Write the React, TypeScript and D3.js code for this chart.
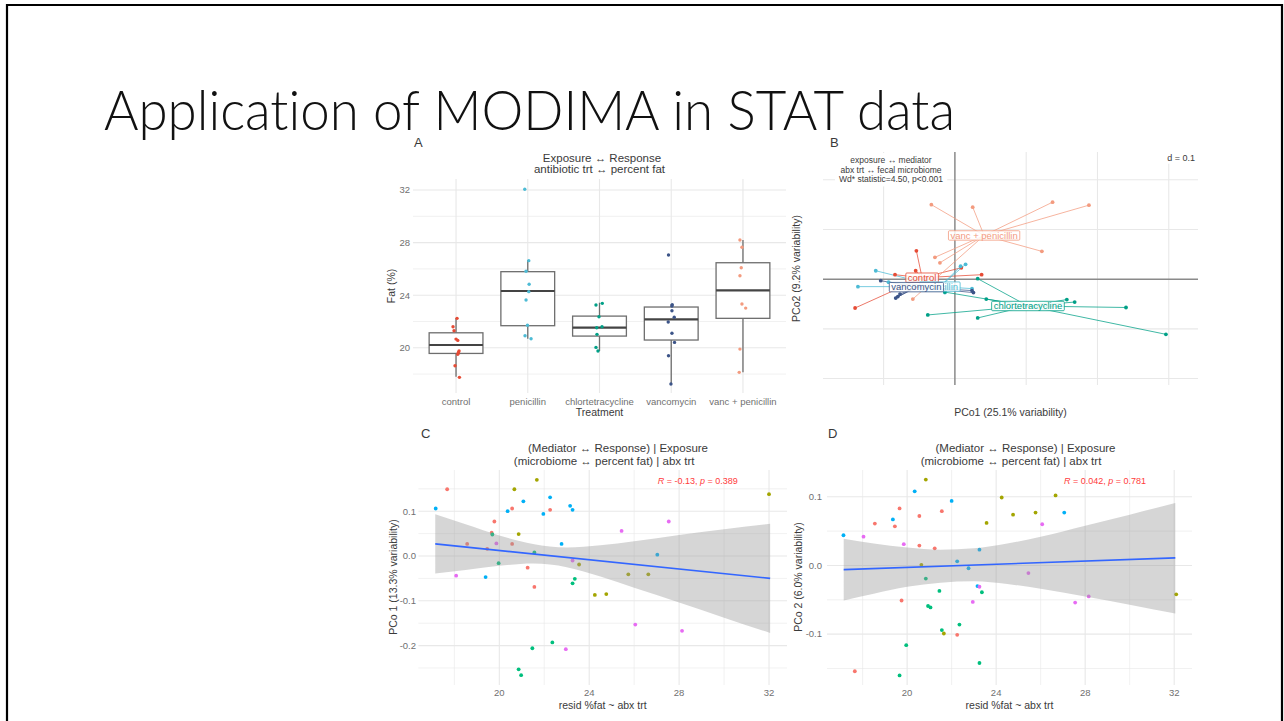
import { useEffect, useRef } from 'react';
import * as d3 from 'd3';

const FONT = '"Liberation Sans", Arial, sans-serif';
const TICK = '#707070';
const INK = '#3a3a3a';
const GRID = '#e8e8e8';

// ---- Panel A: percent fat by antibiotic treatment
const treatments = ['control', 'penicillin', 'chlortetracycline', 'vancomycin', 'vanc + penicillin'];
const treatmentColors = ['#E64B35', '#4DBBD5', '#00A087', '#3C5488', '#F39B7F'];
const fatTicks = [20, 24, 28, 32];
const fatMinorTicks = [18, 22, 26, 30];
// lower whisker, q1, median, q3, upper whisker
const fatBoxes = [
  [17.79, 19.57, 20.21, 21.14, 22.24],
  [20.69, 21.68, 24.32, 25.79, 26.68],
  [19.75, 20.89, 21.53, 22.41, 23.43],
  [17.24, 20.59, 22.16, 23.10, 23.33],
  [18.13, 22.24, 24.37, 26.47, 28.20],
];
// [jitter (category widths), percent fat]
const fatControl = [[0.014, 22.24], [-0.042, 21.6], [-0.028, 21.29], [0, 20.66], [0.024, 20.56], [0.042, 19.75], [0.033, 19.65], [0.024, 19.5], [-0.014, 18.63], [0.047, 17.75]];
const fatPenicillin = [[-0.042, 32.06], [0.014, 26.63], [-0.024, 25.82], [0.019, 24.83], [0.014, 24.27], [-0.024, 23.63], [-0.004, 21.71], [-0.038, 20.91], [0.046, 20.69]];
const fatChlortetracycline = [[-0.049, 23.25], [0.039, 23.38], [-0.007, 22.36], [0.035, 21.6], [-0.039, 21.52], [-0.035, 21.02], [-0.049, 20.03], [-0.021, 19.75]];
const fatVancomycin = [[-0.038, 27.06], [0.014, 23.27], [0.01, 23.18], [0.01, 22.82], [0.042, 22.32], [-0.042, 21.96], [0.01, 21.1], [0.046, 20.41], [-0.038, 19.39], [-0.004, 17.24]];
const fatVancPenicillin = [[-0.042, 28.2], [-0.014, 27.65], [-0.024, 26.09], [-0.042, 25.48], [-0.014, 23.33], [0.038, 23.02], [-0.042, 19.9], [-0.052, 18.13]];
const fatPoints = [fatControl, fatPenicillin, fatChlortetracycline, fatVancomycin, fatVancPenicillin];

// ---- Panel B: PCoA of fecal microbiome, grouped by treatment
const pcoGridX = [-0.1, 0.1, 0.2, 0.3];
const pcoGridY = [-0.2, -0.1, 0.1, 0.2];
const pcoCentroids = [[-0.046, 0.003], [-0.021, -0.015], [0.1025, -0.054], [-0.054, -0.016], [0.041, 0.088]];
const pcoControl = [[-0.054, 0.057], [-0.055, 0.017], [-0.084, 0.009], [-0.14, -0.058], [0.0375, 0.009], [0.009, 0.023]];
const pcoPenicillin = [[-0.111, 0.017], [-0.136, -0.015], [-0.093, -0.006], [0.008, 0.026], [0.015, 0.03], [0.024, -0.019], [-0.014, -0.027]];
const pcoChlortetracycline = [[0.032, 0.001], [-0.014, -0.026], [0.044, -0.04], [-0.038, -0.072], [0.032, -0.078], [0.157, -0.041], [0.168, -0.046], [0.24, -0.057], [0.296, -0.111]];
const pcoVancomycin = [[-0.104, -0.003], [-0.077, -0.03], [-0.08, -0.035], [-0.083, -0.038], [0.026, -0.027], [0.024, -0.023]];
const pcoVancPenicillin = [[-0.033, 0.15], [0.025, 0.145], [0.137, 0.155], [0.188, 0.149], [0.122, 0.056], [-0.028, 0.044], [-0.021, 0.033], [-0.059, -0.04]];
const pcoPoints = [pcoControl, pcoPenicillin, pcoChlortetracycline, pcoVancomycin, pcoVancPenicillin];

// ---- Panels C & D: PCo axis vs residual %fat
const hueColors = ['#F8766D', '#A3A500', '#00BF7D', '#00B0F6', '#E76BF3'];
const residTicks = [20, 24, 28, 32];
const residMinor = [18, 22, 26, 30];
// [resid %fat, PCo score, colour group]
const pco1Points = [
  [17.17, 0.106, 3], [17.68, 0.149, 0], [18.08, -0.044, 4], [18.57, 0.027, 0], [19.39, -0.047, 3],
  [19.46, 0.016, 0], [19.66, 0.052, 0], [19.69, 0.048, 2], [19.78, 0.077, 0], [19.87, 0.028, 4],
  [19.97, -0.016, 2], [20.37, 0.1, 3], [20.57, 0.106, 0], [20.57, 0.027, 0], [20.67, 0.149, 1],
  [20.86, 0.049, 1], [20.86, -0.253, 2], [20.97, -0.266, 2], [21.07, 0.122, 3], [21.26, -0.026, 0],
  [21.47, -0.206, 2], [21.56, 0.008, 2], [21.56, -0.069, 0], [21.67, 0.17, 1], [21.96, 0.094, 3],
  [22.26, 0.103, 0], [22.26, 0.131, 3], [22.36, -0.193, 2], [22.77, 0.027, 3], [22.96, -0.208, 4],
  [23.15, 0.112, 3], [23.26, 0.103, 3], [23.26, -0.01, 4], [23.26, -0.061, 2], [23.36, -0.051, 2],
  [23.55, -0.019, 1], [24.25, -0.087, 1], [24.76, -0.085, 1], [25.44, 0.056, 4], [25.74, -0.041, 1],
  [26.05, -0.153, 4], [26.63, -0.041, 1], [27.03, 0.003, 3], [27.54, 0.077, 4], [28.13, -0.167, 4],
  [32.0, 0.138, 1],
];
const pco2Points = [
  [17.14, 0.044, 3], [18.04, 0.042, 4], [17.65, -0.154, 0], [18.55, 0.061, 0], [19.36, 0.067, 3],
  [19.45, 0.057, 0], [19.66, 0.083, 0], [19.66, -0.16, 2], [19.75, -0.051, 0], [19.85, 0.031, 4],
  [19.96, -0.116, 2], [20.34, 0.108, 3], [20.55, 0.072, 0], [20.55, 0.029, 0], [20.64, 0.001, 1],
  [20.84, 0.125, 1], [20.84, -0.019, 2], [20.94, -0.059, 2], [21.05, -0.061, 2], [21.24, 0.025, 0],
  [21.45, -0.037, 2], [21.56, 0.079, 0], [21.56, -0.094, 2], [21.65, -0.099, 1], [22.0, 0.094, 3],
  [22.25, 0.006, 3], [22.25, -0.101, 0], [22.35, -0.086, 2], [22.76, -0.004, 3], [22.95, -0.053, 4],
  [23.16, -0.03, 3], [23.25, 0.023, 3], [23.25, -0.031, 4], [23.25, -0.142, 2], [23.36, -0.039, 2],
  [23.57, 0.062, 1], [24.25, 0.099, 1], [24.76, 0.074, 1], [25.45, -0.011, 4], [25.77, 0.077, 1],
  [26.07, 0.06, 4], [26.67, 0.102, 1], [27.06, 0.077, 3], [27.55, -0.054, 4], [28.16, -0.045, 4],
  [32.09, -0.042, 1],
];
const bandX = [17.15, 18.5, 20, 21.5, 23, 24.5, 26, 28, 30, 32.05];
const pco1Upper = [0.093, 0.071, 0.046, 0.027, 0.019, 0.024, 0.033, 0.047, 0.06, 0.072];
const pco1Lower = [-0.039, -0.031, -0.022, -0.017, -0.025, -0.046, -0.071, -0.104, -0.138, -0.172];
const pco2Upper = [0.039, 0.032, 0.026, 0.023, 0.025, 0.032, 0.042, 0.058, 0.074, 0.091];
const pco2Lower = [-0.051, -0.041, -0.031, -0.025, -0.023, -0.027, -0.034, -0.045, -0.057, -0.07];
const fitX = [17.15, 32.05];
const pco1Fit = [0.027, -0.05];
const pco2Fit = [-0.006, 0.011];

function addText(g: any, x: number, y: number, str: string, size: number, fill: string, anchor = 'middle') {
  return g.append('text')
    .attr('x', x)
    .attr('y', y)
    .attr('font-family', FONT)
    .attr('font-size', size)
    .attr('fill', fill)
    .attr('text-anchor', anchor)
    .text(str);
}

function addVText(g: any, x: number, y: number, str: string, size: number, fill: string) {
  return g.append('text')
    .attr('transform', `translate(${x},${y}) rotate(-90)`)
    .attr('dy', '0.35em')
    .attr('font-family', FONT)
    .attr('font-size', size)
    .attr('fill', fill)
    .attr('text-anchor', 'middle')
    .text(str);
}

interface ResidPanel {
  tag: string;
  tagX: number;
  points: number[][];
  upper: number[];
  lower: number[];
  fit: number[];
  xRange: [number, number];
  yDomain: [number, number];
  yTicks: number[];
  yMinor: number[];
  yTitle: string;
  yTitleX: number;
  tickRight: number;
  title1X: number;
  rX: number;
  rText: [string, string];
}

function drawResidPanel(svg: any, cfg: ResidPanel) {
  const g = svg.append('g');
  const [x0, x1] = cfg.xRange;
  const top = 470;
  const bottom = 685;
  const x = d3.scaleLinear().domain([16.4, 32.8]).range(cfg.xRange);
  const y = d3.scaleLinear().domain(cfg.yDomain).range([bottom, top]);

  // minor gridlines
  g.selectAll(null).data(cfg.yMinor).join('line')
    .attr('x1', x0).attr('x2', x1)
    .attr('y1', (d: number) => y(d)).attr('y2', (d: number) => y(d))
    .attr('stroke', GRID).attr('stroke-width', 0.6);
  g.selectAll(null).data(residMinor).join('line')
    .attr('x1', (d: number) => x(d)).attr('x2', (d: number) => x(d))
    .attr('y1', top).attr('y2', bottom)
    .attr('stroke', GRID).attr('stroke-width', 0.6);
  // major gridlines
  g.selectAll(null).data(cfg.yTicks).join('line')
    .attr('x1', x0).attr('x2', x1)
    .attr('y1', (d: number) => y(d)).attr('y2', (d: number) => y(d))
    .attr('stroke', GRID).attr('stroke-width', 1.1);
  g.selectAll(null).data(residTicks).join('line')
    .attr('x1', (d: number) => x(d)).attr('x2', (d: number) => x(d))
    .attr('y1', top).attr('y2', bottom)
    .attr('stroke', GRID).attr('stroke-width', 1.1);

  // points (drawn under the confidence band)
  g.selectAll(null).data(cfg.points).join('circle')
    .attr('cx', (d: number[]) => x(d[0]))
    .attr('cy', (d: number[]) => y(d[1]))
    .attr('r', 1.9)
    .attr('fill', (d: number[]) => hueColors[d[2]]);

  const band = d3.area<number>()
    .x(d => x(d))
    .y0((d, i) => y(cfg.lower[i]))
    .y1((d, i) => y(cfg.upper[i]))
    .curve(d3.curveMonotoneX);
  g.append('path')
    .datum(bandX)
    .attr('d', band)
    .attr('fill', '#999999')
    .attr('fill-opacity', 0.4);

  g.append('line')
    .attr('x1', x(fitX[0])).attr('y1', y(cfg.fit[0]))
    .attr('x2', x(fitX[1])).attr('y2', y(cfg.fit[1]))
    .attr('stroke', '#3366FF')
    .attr('stroke-width', 1.6);

  // R / p annotation
  const r = g.append('text')
    .attr('x', cfg.rX).attr('y', 484)
    .attr('font-family', FONT).attr('font-size', 9).attr('fill', '#FF3B3B');
  r.append('tspan').attr('font-style', 'italic').text('R');
  r.append('tspan').text(cfg.rText[0]);
  r.append('tspan').attr('font-style', 'italic').text('p');
  r.append('tspan').text(cfg.rText[1]);

  // axes text
  cfg.yTicks.forEach(t => addText(g, cfg.tickRight, y(t) + 3.3, t.toFixed(1), 9.5, TICK, 'end'));
  residTicks.forEach(t => addText(g, x(t), 696, String(t), 9.5, TICK));
  const cx = (x0 + x1) / 2;
  addText(g, cx, 709, 'resid %fat ~ abx trt', 10.5, INK);
  addVText(g, cfg.yTitleX, 577, cfg.yTitle, 10.5, INK);

  addText(g, cfg.title1X, 452.3, '(Mediator \u2194 Response)  | Exposure', 11.5, INK);
  addText(g, cx + 1.5, 464.7, '(microbiome \u2194 percent fat) | abx trt', 11.5, INK);
  addText(g, cfg.tagX, 438, cfg.tag, 13, INK, 'start');
}

export default function App() {
  const svgRef = useRef<SVGSVGElement>(null);

  useEffect(() => {
    if (!svgRef.current) return;
    const svg = d3.select(svgRef.current);
    svg.selectAll('*').remove();

    svg.append('rect').attr('width', 1284).attr('height', 721).attr('fill', '#ffffff');
    // slide frame
    svg.append('path')
      .attr('d', 'M7,740 V5 H1282 V740')
      .attr('fill', 'none')
      .attr('stroke', '#000')
      .attr('stroke-width', 2.2);

    svg.append('text')
      .attr('x', 104)
      .attr('y', 130)
      .attr('font-family', 'Lato, "Open Sans", sans-serif')
      .attr('font-weight', 300)
      .attr('font-size', 55)
      .attr('textLength', 851)
      .attr('lengthAdjust', 'spacingAndGlyphs')
      .style('font-variant-ligatures', 'none')
      .attr('fill', '#111')
      .text('Application of MODIMA in STAT data');

    // ---------------- Panel A
    const gA = svg.append('g');
    const ax = d3.scaleLinear().domain([0.4, 5.6]).range([413, 786]);
    const ay = d3.scaleLinear().domain([16.56, 32.84]).range([393, 179]);
    const [ax0, ax1] = ax.range();

    gA.selectAll(null).data(fatMinorTicks).join('line')
      .attr('x1', ax0).attr('x2', ax1)
      .attr('y1', d => ay(d)).attr('y2', d => ay(d))
      .attr('stroke', GRID).attr('stroke-width', 0.6);
    gA.selectAll(null).data(fatTicks).join('line')
      .attr('x1', ax0).attr('x2', ax1)
      .attr('y1', d => ay(d)).attr('y2', d => ay(d))
      .attr('stroke', GRID).attr('stroke-width', 1.1);
    gA.selectAll(null).data(treatments).join('line')
      .attr('x1', (d, i) => ax(i + 1)).attr('x2', (d, i) => ax(i + 1))
      .attr('y1', 179).attr('y2', 393)
      .attr('stroke', GRID).attr('stroke-width', 1.1);

    const halfBox = (ax(1.375) - ax(1));
    fatBoxes.forEach((b, i) => {
      const cx = ax(i + 1);
      gA.append('line')
        .attr('x1', cx).attr('x2', cx).attr('y1', ay(b[0])).attr('y2', ay(b[1]))
        .attr('stroke', '#6e6e6e').attr('stroke-width', 1.3);
      gA.append('line')
        .attr('x1', cx).attr('x2', cx).attr('y1', ay(b[3])).attr('y2', ay(b[4]))
        .attr('stroke', '#6e6e6e').attr('stroke-width', 1.3);
      gA.append('rect')
        .attr('x', cx - halfBox).attr('y', ay(b[3]))
        .attr('width', halfBox * 2).attr('height', ay(b[1]) - ay(b[3]))
        .attr('fill', '#fff')
        .attr('stroke', '#6e6e6e').attr('stroke-width', 1.3);
      gA.append('line')
        .attr('x1', cx - halfBox).attr('x2', cx + halfBox)
        .attr('y1', ay(b[2])).attr('y2', ay(b[2]))
        .attr('stroke', '#444').attr('stroke-width', 2.2);
    });

    fatPoints.forEach((pts, i) => {
      gA.selectAll(null).data(pts).join('circle')
        .attr('cx', d => ax(i + 1 + d[0]))
        .attr('cy', d => ay(d[1]))
        .attr('r', 1.7)
        .attr('fill', treatmentColors[i]);
    });

    fatTicks.forEach(t => addText(gA, 410, ay(t) + 3.3, String(t), 9.5, TICK, 'end'));
    treatments.forEach((t, i) => addText(gA, ax(i + 1), 405, t, 9.5, TICK));
    addText(gA, (ax0 + ax1) / 2, 416, 'Treatment', 10.5, INK);
    addVText(gA, 391, 286, 'Fat (%)', 10.5, INK);
    addText(gA, 602, 161.7, 'Exposure \u2194 Response', 11.5, INK);
    addText(gA, (ax0 + ax1) / 2, 173.3, 'antibiotic trt \u2194 percent fat', 11.5, INK);
    addText(gA, 414, 147, 'A', 13, INK, 'start');

    // ---------------- Panel B
    const gB = svg.append('g');
    const bx = d3.scaleLinear().domain([-0.185, 0.341]).range([823, 1198]);
    const by = d3.scaleLinear().domain([-0.213, 0.256]).range([385, 152]);
    const [bx0, bx1] = bx.range();
    const [by0, by1] = by.range();

    gB.selectAll(null).data(pcoGridX).join('line')
      .attr('x1', d => bx(d)).attr('x2', d => bx(d)).attr('y1', by1).attr('y2', by0)
      .attr('stroke', GRID).attr('stroke-width', 1.1);
    gB.selectAll(null).data(pcoGridY).join('line')
      .attr('x1', bx0).attr('x2', bx1).attr('y1', d => by(d)).attr('y2', d => by(d))
      .attr('stroke', GRID).attr('stroke-width', 1.1);

    // annotation box (top-left)
    const note = gB.append('g');
    ['exposure \u2194 mediator', 'abx trt \u2194  fecal microbiome', 'Wd* statistic=4.50, p<0.001']
      .forEach((s, i) => addText(note, 891, 163 + i * 9.7, s, 8.5, INK));
    const nb = (note.node() as SVGGElement).getBBox();
    note.insert('rect', 'text')
      .attr('x', nb.x - 4).attr('y', nb.y - 2)
      .attr('width', nb.width + 8).attr('height', nb.height + 4)
      .attr('fill', '#fff');

    // zero axes
    gB.append('line')
      .attr('x1', bx(0)).attr('x2', bx(0)).attr('y1', by1).attr('y2', by0)
      .attr('stroke', '#8a8a8a').attr('stroke-width', 1.5);
    gB.append('line')
      .attr('x1', bx0).attr('x2', bx1).attr('y1', by(0)).attr('y2', by(0))
      .attr('stroke', '#8a8a8a').attr('stroke-width', 1.5);

    // star segments and points
    pcoPoints.forEach((pts, i) => {
      const c = pcoCentroids[i];
      gB.selectAll(null).data(pts).join('line')
        .attr('x1', d => bx(d[0])).attr('y1', d => by(d[1]))
        .attr('x2', bx(c[0])).attr('y2', by(c[1]))
        .attr('stroke', treatmentColors[i])
        .attr('stroke-opacity', 0.75)
        .attr('stroke-width', 1);
    });
    pcoPoints.forEach((pts, i) => {
      gB.selectAll(null).data(pts).join('circle')
        .attr('cx', d => bx(d[0])).attr('cy', d => by(d[1]))
        .attr('r', 1.9)
        .attr('fill', treatmentColors[i]);
    });
    // group labels at centroids
    treatments.forEach((t, i) => {
      const c = pcoCentroids[i];
      const lg = gB.append('g');
      const txt = addText(lg, bx(c[0]), by(c[1]) + 3.3, t, 9.5, treatmentColors[i]);
      const bb = (txt.node() as SVGTextElement).getBBox();
      lg.insert('rect', 'text')
        .attr('x', bb.x - 2).attr('y', by(c[1]) - 4.7)
        .attr('width', bb.width + 4).attr('height', 9.4)
        .attr('rx', 1)
        .attr('fill', '#fff').attr('fill-opacity', 0.85)
        .attr('stroke', treatmentColors[i]).attr('stroke-width', 0.8);
    });

    const dl = gB.append('g');
    addText(dl, 1195, 160.7, 'd = 0.1', 9, INK, 'end');
    const db = (dl.node() as SVGGElement).getBBox();
    dl.insert('rect', 'text')
      .attr('x', db.x - 2).attr('y', db.y - 1)
      .attr('width', db.width + 4).attr('height', db.height + 2)
      .attr('fill', '#fff');

    addText(gB, (bx0 + bx1) / 2, 416, 'PCo1 (25.1% variability)', 10.5, INK);
    addVText(gB, 796, (by0 + by1) / 2, 'PCo2 (9.2% variability)', 10.5, INK);
    addText(gB, 830, 147, 'B', 13, INK, 'start');

    // ---------------- Panels C & D
    drawResidPanel(svg, {
      tag: 'C', tagX: 421,
      points: pco1Points, upper: pco1Upper, lower: pco1Lower, fit: pco1Fit,
      xRange: [418.4, 787], yDomain: [-0.288, 0.192],
      yTicks: [-0.2, -0.1, 0, 0.1], yMinor: [-0.25, -0.15, -0.05, 0.05, 0.15],
      yTitle: 'PCo 1 (13.3% variability)', yTitleX: 393.3, tickRight: 416,
      title1X: 618, rX: 657.7, rText: [' = -0.13,  ', ' = 0.389'],
    });
    drawResidPanel(svg, {
      tag: 'D', tagX: 828,
      points: pco2Points, upper: pco2Upper, lower: pco2Lower, fit: pco2Fit,
      xRange: [827, 1192], yDomain: [-0.174, 0.139],
      yTicks: [-0.1, 0, 0.1], yMinor: [-0.15, -0.05, 0.05],
      yTitle: 'PCo 2 (6.0% variability)', yTitleX: 798.3, tickRight: 822,
      title1X: 1025.5, rX: 1064, rText: [' = 0.042,  ', ' = 0.781'],
    });
  }, []);

  return (
    <svg
      ref={svgRef}
      width={1284}
      height={721}
      style={{ position: 'absolute', left: 0, top: 0, display: 'block' }}
    />
  );
}
